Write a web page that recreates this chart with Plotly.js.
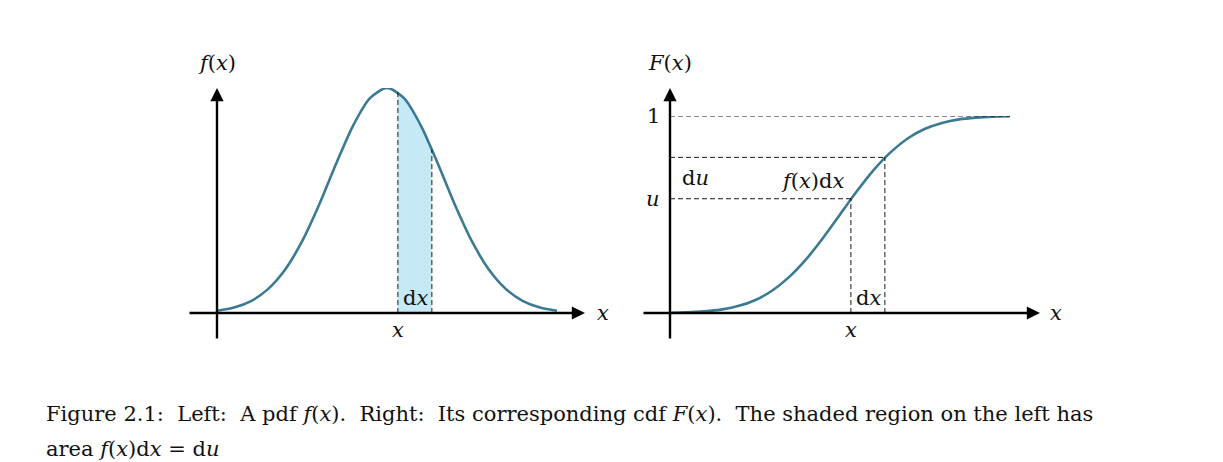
<!DOCTYPE html>
<html><head><meta charset="utf-8">
<script src="https://cdn.plot.ly/plotly-3.0.1.min.js"></script>
<style>body{margin:0;background:#fff}</style>
</head><body>
<div id="fig" style="width:1223px;height:462px"></div>
<script>
// sample points (x in axis units 0..10)
var xs = [0,0.5,1,1.5,2,2.5,3,3.5,4,4.5,5,5.5,6,6.5,7,7.5,8,8.5,9,9.5,10];
var pdfVals = [0.01,0.024,0.053,0.106,0.192,0.318,0.480,0.662,0.832,0.955,1,0.955,0.832,0.662,0.480,0.318,0.192,0.106,0.053,0.024,0.01];
var cdfVals = [0.001,0.003,0.008,0.017,0.035,0.065,0.113,0.182,0.272,0.381,0.5,0.619,0.728,0.818,0.887,0.935,0.965,0.983,0.992,0.997,0.999];
var shadeX = [5.32,5.57,5.82,6.07,6.32];
var shadeY = [0.981,0.942,0.884,0.811,0.726];
var xu = 5.32, xdx = 6.32, u = 0.58, udu = 0.79;

var W = 1223, H = 462;
function px(p){return p/W;}
function py(p){return (H-p)/H;}
var curveCol = '#3b7a93';
var fam = 'DejaVu Serif, serif';

var data = [
  {x:shadeX, y:shadeY, type:'scatter', mode:'lines', fill:'tozeroy', fillcolor:'#c6e9f8', line:{width:0}, xaxis:'x', yaxis:'y', hoverinfo:'skip'},
  {x:xs, y:pdfVals, type:'scatter', mode:'lines', line:{color:curveCol, width:2.6, shape:'spline', smoothing:0.8}, xaxis:'x', yaxis:'y'},
  {x:xs, y:cdfVals, type:'scatter', mode:'lines', line:{color:curveCol, width:2.6, shape:'spline', smoothing:0.8}, xaxis:'x2', yaxis:'y2'}
];

var dash = {color:'#000', width:0.9, dash:'5px,3px'};
var shapes = [
  {type:'line', xref:'x', yref:'y', x0:xu, x1:xu, y0:0, y1:0.981, line:dash},
  {type:'line', xref:'x', yref:'y', x0:xdx, x1:xdx, y0:0, y1:0.726, line:dash},
  {type:'line', xref:'x2', yref:'y2', x0:0, x1:10, y0:1, y1:1, line:dash},
  {type:'line', xref:'x2', yref:'y2', x0:0, x1:xdx, y0:udu, y1:udu, line:dash},
  {type:'line', xref:'x2', yref:'y2', x0:0, x1:xu, y0:u, y1:u, line:dash},
  {type:'line', xref:'x2', yref:'y2', x0:xu, x1:xu, y0:0, y1:u, line:dash},
  {type:'line', xref:'x2', yref:'y2', x0:xdx, x1:xdx, y0:0, y1:udu, line:dash}
];

function arrow(x0,y0,x1,y1){
  return {xref:'paper', yref:'paper', axref:'pixel', ayref:'pixel', x:px(x1), y:py(y1), ax:x0-x1, ay:y0-y1,
    text:'', showarrow:true, arrowhead:2, arrowsize:1.1, arrowwidth:2.4, arrowcolor:'#000'};
}
function lbl(t,x,y,anchor,size){
  return {xref:'paper', yref:'paper', x:px(x), y:py(y), text:t, showarrow:false,
    xanchor:anchor||'center', yanchor:'middle', font:{family:fam, size:size||21, color:'#111'}};
}
var ann = [
  arrow(188,313,585,313), arrow(217,340,217,88),
  arrow(642,313,1040,313), arrow(670,340,670,88),
  lbl('<i>f</i>(<i>x</i>)',217,63), lbl('<i>F</i>(<i>x</i>)',670,63),
  lbl('<i>x</i>',603,313), lbl('<i>x</i>',1056,313),
  lbl('<i>x</i>',398,330), lbl('d<i>x</i>',415,298),
  lbl('<i>x</i>',851,330), lbl('d<i>x</i>',868,298),
  lbl('1',653,116), lbl('<i>u</i>',653,199),
  lbl('d<i>u</i>',695,178), lbl('<i>f</i>(<i>x</i>)d<i>x</i>',812,181),
  lbl('Figure 2.1:  Left:  A pdf <i>f</i>(<i>x</i>).  Right:  Its corresponding cdf <i>F</i>(<i>x</i>).  The shaded region on the left has',44,414,'left',21),
  lbl('area <i>f</i>(<i>x</i>)d<i>x</i> = d<i>u</i>',44,449,'left',21)
];

var hidden = {visible:false, fixedrange:true};
var layout = {
  width:W, height:H, margin:{l:0,r:0,t:0,b:0}, showlegend:false,
  paper_bgcolor:'#fff', plot_bgcolor:'rgba(0,0,0,0)',
  xaxis: Object.assign({domain:[px(217),px(557)], range:[0,10]}, hidden),
  yaxis: Object.assign({domain:[py(313),py(88)], range:[0,1]}, hidden),
  xaxis2: Object.assign({domain:[px(670),px(1010)], range:[0,10], anchor:'y2'}, hidden),
  yaxis2: Object.assign({domain:[py(313),py(116)], range:[0,1], anchor:'x2'}, hidden),
  shapes:shapes, annotations:ann
};
Plotly.newPlot('fig', data, layout, {staticPlot:true});
</script>
</body></html>
